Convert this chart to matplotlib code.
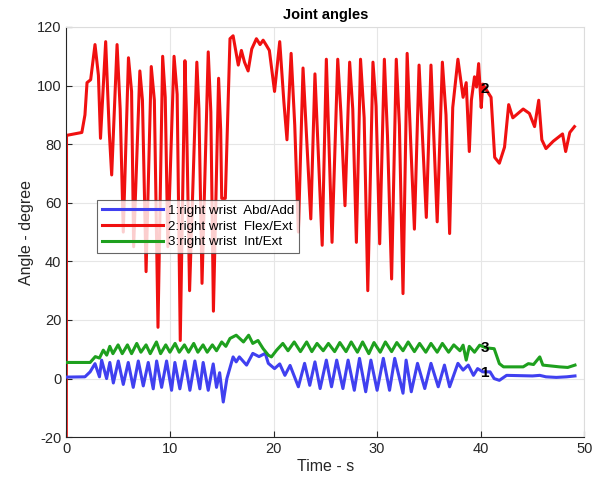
import numpy as np
import matplotlib
matplotlib.use('Agg')
from matplotlib import pyplot as plt

plt.rcParams['font.family'] = ['Liberation Sans', 'DejaVu Sans']
plt.rcParams['axes.unicode_minus'] = False

# 2: right wrist Flex/Ext (red)
red_t = [0, 0.02, 1.5, 1.8, 2.0, 2.35, 2.77, 3.1, 3.3, 3.8, 4.15, 4.38, 4.9, 5.2, 5.5,
         6.0, 6.3, 6.5, 7.1, 7.35, 7.7, 8.2, 8.5, 8.85, 9.3, 9.55, 9.8, 10.4, 10.7, 11.0,
         11.45, 11.6, 11.9, 12.6, 12.8, 13.1, 13.7, 13.95, 14.2, 14.7, 14.9, 15.0, 15.35,
         15.8, 16.1, 16.6, 16.9, 17.2, 17.55, 17.9, 18.35, 18.7, 19.0, 19.3, 19.6, 20.1,
         20.6, 21.0, 21.3, 21.7, 22.05, 22.4, 22.85, 23.6, 24.0, 24.7, 25.1, 25.65, 26.2,
         26.5, 26.9, 27.35, 27.65, 28.0, 28.4, 28.75, 29.1, 29.6, 29.9, 30.25, 30.7, 31.0,
         31.4, 31.85, 32.15, 32.5, 32.9, 33.25, 33.6, 34.05, 34.75, 35.2, 35.8, 36.3, 36.65,
         37.0, 37.3, 37.8, 38.3, 38.6, 38.9, 39.1, 39.4, 39.6, 39.8, 40.05, 40.2, 41.0,
         41.35, 41.8, 42.3, 42.7, 43.1, 44.1, 44.7, 45.2, 45.6, 45.9, 46.3, 47.0, 47.9,
         48.2, 48.6, 49.05]
red_v = [-20, 83, 84, 90, 101, 102, 114, 103.5, 82, 115, 84, 69.5, 114, 92, 50,
         109.5, 98, 45, 105, 95, 36.5, 106.5, 95, 17.5, 110, 96, 45, 110, 97, 13,
         108.5, 90, 30, 108, 92, 32.5, 111.5, 91, 23, 102.5, 85, 61.5, 61.5,
         116, 117, 107, 112, 108, 105, 112.5, 116, 114, 115.5, 113.8, 112, 98,
         115, 94.5, 81.5, 111, 86.5, 50, 106, 54.5, 104, 45.5, 109, 46.5, 109,
         91, 59, 108, 92, 46.5, 109, 89, 30, 108, 93, 46, 109, 83,
         34, 109, 86.5, 29, 111, 80, 51, 107, 55, 107, 53.5, 108, 90,
         49.5, 92.5, 109, 96, 101, 77.5, 95, 103, 99.5, 107.5, 92.5, 100.5, 96,
         75.5, 73.5, 79, 93.5, 89, 92, 90.5, 86, 95, 81.5, 78.5, 81, 83.5,
         77.5, 84, 86]

# 1: right wrist Abd/Add (blue)
blue_t = [0, 1.8, 2.3, 2.77, 3.2, 3.41, 3.89, 4.2, 4.54, 5.02, 5.5, 5.98, 6.46, 6.95,
          7.43, 7.91, 8.39, 8.72, 9.2, 9.68, 10.16, 10.48, 10.96, 11.45, 11.93, 12.41,
          12.89, 13.21, 13.7, 14.18, 14.5, 14.8, 15.15, 15.5, 16.1, 16.4, 16.7, 17.4,
          18.0, 18.6, 19.2, 19.5, 20.1, 20.6, 21.1, 21.6, 22.4, 23.0, 23.5, 24.0, 24.5,
          25.1, 25.6, 26.1, 26.7, 27.2, 27.8, 28.3, 28.9, 29.4, 30.0, 30.6, 31.2, 31.7,
          32.5, 32.8, 33.3, 33.9, 34.6, 35.2, 35.9, 36.5, 37.0, 37.8, 38.3, 38.8, 39.3,
          39.7, 40.2, 40.9, 41.3, 41.8, 42.5, 45.0, 45.7, 46.3, 47.3, 48.3, 49.1]
blue_v = [0.5, 0.6, 2.3, 5.1, 0.6, 6.3, 0, 5.5, -1.5, 6, -2, 5.5, -3, 6,
          -2.5, 5.5, -3.5, 6, -3, 6, -4, 5.5, -3.5, 6, -4, 6,
          -3.5, 5.5, -4, 5, -3, 2, -8, 0, 7.4, 5.7, 7.4, 4.6,
          8.6, 7.5, 8.6, 5.2, 3.4, 5, 1.1, 4.5, -2.8, 5.2, -2.3, 5.7, -3.4,
          6.3, -2.8, 6.3, -3.4, 6.3, -4, 6.9, -4.5, 6.3, -4, 6.9, -4, 6.9,
          -5, 6.3, -4.5, 5.2, -3.4, 5.2, -2.8, 4.6, -2.8, 5.2, 2.9, 4.6, 1.1,
          3.4, 2.3, 2.3, 0, -0.6, 1.1, 0.9, 1.1, 0.6, 0.4, 0.6, 0.9]

# 3: right wrist Int/Ext (green)
green_t = [0, 2.3, 2.8, 3.2, 3.57, 3.9, 4.2, 4.5, 5.0, 5.4, 5.9, 6.3, 6.8, 7.2, 7.7,
           8.1, 8.7, 9.1, 9.6, 10.0, 10.5, 10.9, 11.4, 11.8, 12.3, 12.7, 13.2, 13.6,
           14.1, 14.5, 15.0, 15.4, 15.8, 16.4, 17.1, 17.6, 18.0, 18.5, 19.0, 19.5, 19.8,
           20.3, 20.9, 21.4, 22.0, 22.6, 23.2, 23.7, 24.2, 24.8, 25.3, 25.9, 26.4, 27.0,
           27.5, 28.1, 28.6, 29.2, 29.7, 30.3, 30.8, 31.4, 31.9, 32.5, 33.0, 33.6, 34.1,
           34.7, 35.2, 35.8, 36.3, 36.9, 37.4, 38.0, 38.3, 38.6, 38.9, 39.4, 39.9, 40.5,
           41.3, 41.8, 42.2, 44.1, 44.6, 45.1, 45.7, 46.0, 47.6, 48.4, 49.1]
green_v = [5.5, 5.5, 7.5, 7, 9.7, 8, 11, 8.5, 11.5, 8.5, 11.5, 8.5, 12, 9, 11.5,
           8.5, 12.5, 8.5, 11.5, 9, 12, 9, 11.5, 9, 12, 9, 11.5, 9,
           11.5, 9.5, 12.5, 11, 13.7, 14.8, 12.5, 14.8, 12, 13, 10.2, 8, 7.4,
           9.7, 12, 9.5, 12.5, 9.2, 12.5, 9.2, 12, 9.5, 12, 9.2, 12.3, 9.2,
           12.5, 9, 12.5, 8.5, 12.3, 9, 12.5, 9.2, 12.3, 9.5, 12.5, 9.2, 12,
           9, 12, 9, 12, 9, 11.5, 9.5, 11.4, 6.3, 11, 9, 11.4, 10.5,
           10.2, 5.1, 4, 4, 5.1, 4.8, 7.4, 4.6, 4, 3.8, 4.6]

labels = ['1:right wrist  Abd/Add', '2:right wrist  Flex/Ext', '3:right wrist  Int/Ext']

fig = plt.figure(figsize=(5.92, 4.82), dpi=100)
ax = fig.add_axes([0.112, 0.093, 0.875, 0.851])

lw = 2.2
ax.plot(blue_t, blue_v, color='#4040f0', lw=lw, label=labels[0], zorder=3)
ax.plot(red_t, red_v, color='#f01010', lw=lw, label=labels[1], zorder=2)
ax.plot(green_t, green_v, color='#1ea01e', lw=lw, label=labels[2], zorder=3)

ax.text(40.0, 99, '2', fontsize=11, fontweight='bold', va='center', ha='left', zorder=5)
ax.text(40.0, 10.3, '3', fontsize=11, fontweight='bold', va='center', ha='left', zorder=5)
ax.text(40.0, 2.0, '1', fontsize=11, fontweight='bold', va='center', ha='left', zorder=5)

ax.set_xlim(0, 50)
ax.set_ylim(-20, 120)
ax.set_xticks(np.arange(0, 51, 10))
ax.set_yticks(np.arange(-20, 121, 20))
ax.grid(True, color='#e6e6e6', lw=0.8)
ax.set_axisbelow(True)
ax.tick_params(direction='in', length=4, labelsize=10.5, colors='#262626')
for s in ['top', 'right']:
    ax.spines[s].set_color('#dcdcdc')
for s in ['bottom', 'left']:
    ax.spines[s].set_color('#262626')

ax.set_xlabel('Time - s', fontsize=11.5, color='#262626', labelpad=2)
ax.set_ylabel('Angle - degree', fontsize=11.5, color='#262626', labelpad=2)
ax.set_title('Joint angles', fontsize=10.5, fontweight='bold', pad=6)

leg = ax.legend(loc='upper left', bbox_to_anchor=(0.059, 0.578), borderaxespad=0,
                fontsize=9.6, frameon=True, fancybox=False, edgecolor='#404040',
                handlelength=4.6, handletextpad=0.4, labelspacing=0.25,
                borderpad=0.35)
leg.get_frame().set_linewidth(0.8)

fig.savefig('out.png', dpi=100)
